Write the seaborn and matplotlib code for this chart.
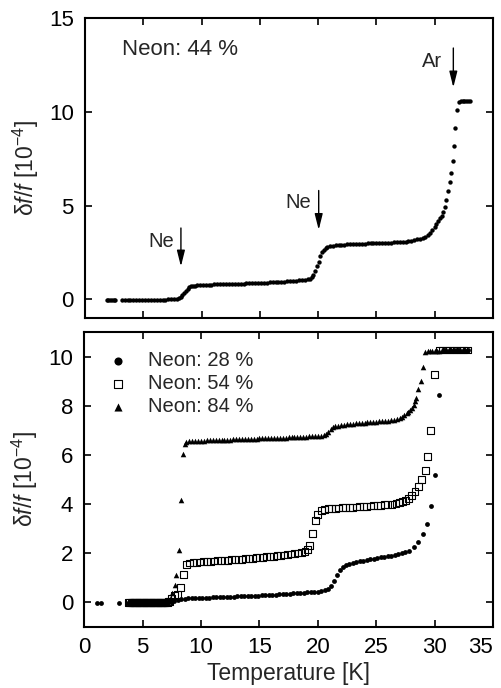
import numpy as np
import pandas as pd
import matplotlib
matplotlib.use("Agg")
import matplotlib.pyplot as plt
import seaborn as sns

# upper panel: Neon 44 %
t44 = [1.85, 2.0, 2.15, 2.3, 2.45, 2.57,
       3.15, 3.4, 3.65, 3.9, 4.15, 4.4, 4.65, 4.9, 5.15, 5.4, 5.65, 5.9, 6.15, 6.4,
       6.65, 6.9, 7.15, 7.4, 7.65, 7.9,
       8.05, 8.2, 8.35, 8.5, 8.65, 8.8, 8.95, 9.1, 9.25, 9.4, 9.6, 9.85,
       10.1, 10.35, 10.6, 10.85, 11.1, 11.35, 11.6, 11.85, 12.1, 12.35, 12.6, 12.85,
       13.1, 13.35, 13.6, 13.85, 14.1, 14.35, 14.6, 14.85, 15.1, 15.35, 15.6, 15.85,
       16.1, 16.35, 16.6, 16.85, 17.1, 17.35, 17.6, 17.85, 18.1, 18.35, 18.6, 18.85, 19.1,
       19.3, 19.45, 19.6, 19.75, 19.9, 20.05, 20.2, 20.35, 20.5, 20.65, 20.8, 21.0, 21.25,
       21.5, 21.75, 22.0, 22.25, 22.5, 22.75, 23.0, 23.25, 23.5, 23.75, 24.0, 24.25,
       24.5, 24.75, 25.0, 25.25, 25.5, 25.75, 26.0, 26.25, 26.5, 26.75, 27.0, 27.25, 27.5,
       27.75, 28.0, 28.25, 28.5, 28.75, 29.0, 29.2, 29.4, 29.6, 29.8, 30.0, 30.15,
       30.3, 30.45, 30.6, 30.75, 30.85,
       31.0, 31.13, 31.28, 31.42, 31.56, 31.65, 31.76, 31.9,
       32.1, 32.25, 32.4, 32.55, 32.7, 32.85, 33.0]
d44 = [-0.02, -0.02, -0.02, -0.02, -0.02, -0.02,
       -0.02, -0.02, -0.02, -0.02, -0.02, -0.02, -0.02, -0.02, -0.02, -0.02, -0.02, -0.02, -0.02, -0.02,
       -0.02, -0.02, -0.01, -0.01, 0.0, 0.02,
       0.06, 0.12, 0.22, 0.33, 0.45, 0.56, 0.63, 0.68, 0.71, 0.73, 0.75, 0.76,
       0.77, 0.77, 0.78, 0.78, 0.79, 0.79, 0.8, 0.8, 0.8, 0.81, 0.81, 0.82,
       0.82, 0.83, 0.83, 0.84, 0.84, 0.85, 0.85, 0.86, 0.87, 0.88, 0.89, 0.9,
       0.9, 0.91, 0.92, 0.93, 0.94, 0.95, 0.96, 0.98, 0.99, 1.0, 1.02, 1.04, 1.06,
       1.1, 1.18, 1.3, 1.5, 1.75, 2.0, 2.3, 2.5, 2.64, 2.72, 2.78, 2.83, 2.86,
       2.88, 2.9, 2.91, 2.92, 2.93, 2.94, 2.95, 2.96, 2.96, 2.97, 2.97, 2.98,
       2.98, 2.99, 2.99, 3.0, 3.0, 3.01, 3.01, 3.02, 3.03, 3.04, 3.05, 3.06, 3.07,
       3.09, 3.12, 3.15, 3.19, 3.23, 3.28, 3.34, 3.43, 3.55, 3.7, 3.88, 4.02,
       4.16, 4.32, 4.45, 4.68, 4.92,
       5.32, 5.76, 6.24, 6.74, 7.39, 8.16, 9.13, 10.07,
       10.5, 10.55, 10.55, 10.55, 10.55, 10.55, 10.55]

# lower panel: Neon 28 % (filled circles)
t28 = [1.05, 1.45, 2.95,
       3.75, 3.85, 3.95, 4.05, 4.15, 4.25, 4.35, 4.45, 4.55, 4.65, 4.75, 4.85, 4.95,
       5.05, 5.15, 5.25, 5.35, 5.45, 5.55, 5.65, 5.75, 5.85, 5.95, 6.05, 6.15, 6.25,
       6.35, 6.45, 6.55, 6.65, 6.75, 6.85, 6.95, 7.05, 7.15,
       7.4, 7.7, 8.0, 8.3, 8.6, 8.9, 9.2, 9.5, 9.8, 10.1, 10.4, 10.7, 11.0, 11.3,
       11.6, 11.9, 12.2, 12.5, 12.8, 13.1, 13.4, 13.7, 14.0, 14.3, 14.6, 14.9, 15.2,
       15.5, 15.8, 16.1, 16.4, 16.7, 17.0, 17.3, 17.6, 17.9, 18.2, 18.5, 18.8, 19.1,
       19.4, 19.7, 20.0, 20.3, 20.6, 20.9, 21.15, 21.4, 21.65, 21.9, 22.15, 22.4,
       22.7, 23.0, 23.3, 23.6, 23.9, 24.2, 24.5, 24.8, 25.1, 25.4, 25.7, 26.0, 26.3,
       26.6, 26.9, 27.2, 27.5, 27.8, 28.2, 28.6, 29.0, 29.33, 29.67, 30.05, 30.4,
       30.9, 31.3, 31.7, 32.1, 32.5, 32.9]
d28 = [-0.02, -0.02, -0.02,
       -0.02, -0.02, -0.02, -0.02, -0.02, -0.02, -0.02, -0.02, -0.02, -0.02, -0.02, -0.02, -0.02,
       -0.02, -0.02, -0.02, -0.02, -0.02, -0.02, -0.02, -0.02, -0.02, -0.02, -0.02, -0.02, -0.02,
       -0.02, -0.02, -0.02, -0.02, -0.02, -0.02, -0.01, -0.01, 0.0,
       0.03, 0.07, 0.1, 0.13, 0.15, 0.16, 0.16, 0.17, 0.18, 0.18, 0.19, 0.19, 0.2, 0.2,
       0.21, 0.22, 0.22, 0.23, 0.23, 0.24, 0.25, 0.25, 0.26, 0.27, 0.28, 0.28, 0.29,
       0.3, 0.31, 0.32, 0.32, 0.33, 0.34, 0.35, 0.36, 0.37, 0.38, 0.39, 0.4, 0.41,
       0.42, 0.43, 0.44, 0.46, 0.5, 0.56, 0.68, 0.86, 1.1, 1.32, 1.45, 1.52,
       1.57, 1.61, 1.64, 1.67, 1.7, 1.73, 1.76, 1.78, 1.8, 1.83, 1.85, 1.87, 1.9,
       1.93, 1.96, 2.0, 2.05, 2.11, 2.24, 2.46, 2.77, 3.2, 3.91, 5.18, 8.43,
       10.25, 10.25, 10.25, 10.25, 10.25, 10.25]

# lower panel: Neon 54 % (open squares)
t54 = [3.8, 3.9, 4.0, 4.1, 4.2, 4.3, 4.4, 4.5, 4.6, 4.7, 4.8, 4.9, 5.0, 5.1, 5.2,
       5.3, 5.4, 5.5, 5.6, 5.7, 5.8, 5.9, 6.0, 6.1, 6.2, 6.3, 6.4, 6.5, 6.6, 6.7,
       6.8, 6.9, 7.0, 7.1, 7.2, 7.3,
       7.5, 7.73, 7.96, 8.24, 8.5, 8.73,
       9.0, 9.3, 9.6, 9.9, 10.2, 10.5, 10.8, 11.1, 11.4, 11.7, 12.0, 12.3, 12.6, 12.9,
       13.2, 13.5, 13.8, 14.1, 14.4, 14.7, 15.0, 15.3, 15.6, 15.9, 16.2, 16.5, 16.8,
       17.1, 17.4, 17.7, 18.0, 18.3, 18.6, 18.9, 19.1, 19.3, 19.52, 19.8, 20.0, 20.3,
       20.6, 20.9, 21.2, 21.5, 21.8, 22.1, 22.4, 22.7, 23.0, 23.3, 23.6, 23.9, 24.2,
       24.5, 24.8, 25.1, 25.4, 25.7, 26.0, 26.35, 26.7, 27.0, 27.25, 27.5, 27.77,
       28.05, 28.33, 28.62, 28.85, 29.19, 29.4, 29.67, 29.96,
       30.4, 30.7, 31.0, 31.3, 31.6, 31.9, 32.2, 32.5, 32.8]
d54 = [-0.02, -0.02, -0.02, -0.02, -0.02, -0.02, -0.02, -0.02, -0.02, -0.02, -0.02, -0.02,
       -0.02, -0.02, -0.02, -0.02, -0.02, -0.02, -0.02, -0.02, -0.02, -0.02, -0.02, -0.02,
       -0.02, -0.02, -0.02, -0.02, -0.02, -0.02, -0.02, -0.01, -0.01, 0.0, 0.02, 0.05,
       0.17, 0.28, 0.33, 0.6, 1.14, 1.53,
       1.6, 1.62, 1.63, 1.64, 1.65, 1.66, 1.67, 1.68, 1.69, 1.7, 1.71, 1.72, 1.73, 1.74,
       1.75, 1.76, 1.77, 1.79, 1.8, 1.82, 1.83, 1.84, 1.86, 1.87, 1.88, 1.9, 1.91,
       1.93, 1.95, 1.97, 1.99, 2.01, 2.04, 2.08, 2.15, 2.33, 2.8, 3.33, 3.57, 3.73,
       3.79, 3.81, 3.82, 3.83, 3.84, 3.85, 3.86, 3.87, 3.87, 3.88, 3.89, 3.9, 3.91,
       3.92, 3.93, 3.94, 3.95, 3.97, 3.98, 3.99, 4.03, 4.07, 4.11, 4.16, 4.22,
       4.34, 4.51, 4.71, 5.0, 5.38, 5.94, 6.99, 9.27,
       10.27, 10.27, 10.27, 10.27, 10.27, 10.27, 10.27, 10.27, 10.27]

# lower panel: Neon 84 % (filled triangles)
t84 = [3.85, 3.95, 4.05, 4.15, 4.25, 4.35, 4.45, 4.55, 4.65, 4.75, 4.85, 4.95,
       5.05, 5.15, 5.25, 5.35, 5.45, 5.55, 5.65, 5.75, 5.85, 5.95, 6.05, 6.15,
       6.25, 6.35, 6.45, 6.55, 6.65, 6.75, 6.85, 6.95, 7.05, 7.15, 7.3,
       7.54, 7.73, 7.88, 8.07, 8.24, 8.44, 8.58, 8.75,
       9.0, 9.25, 9.5, 9.75, 10.0, 10.25, 10.5, 10.75, 11.0, 11.25, 11.5, 11.75,
       12.0, 12.25, 12.5, 12.75, 13.0, 13.25, 13.5, 13.75, 14.0, 14.25, 14.5, 14.75,
       15.0, 15.25, 15.5, 15.75, 16.0, 16.25, 16.5, 16.75, 17.0, 17.25, 17.5, 17.75,
       18.0, 18.25, 18.5, 18.75, 19.0, 19.25, 19.5, 19.75, 20.0, 20.25, 20.5, 20.7,
       20.9, 21.1, 21.3, 21.5, 21.75, 22.0, 22.25, 22.5, 22.75, 23.0, 23.25, 23.5,
       23.75, 24.0, 24.25, 24.5, 24.75, 25.0, 25.25, 25.5, 25.75, 26.0, 26.25, 26.5,
       26.75, 27.0, 27.2, 27.4, 27.6, 27.75, 27.9, 28.05, 28.2, 28.3, 28.4, 28.62,
       28.8, 28.98, 29.2,
       29.4, 29.6, 29.8, 30.0, 30.2, 30.4, 30.6, 30.8, 31.0, 31.2, 31.4, 31.6, 31.8,
       32.0, 32.2, 32.4, 32.6, 32.8]
d84 = [-0.02, -0.02, -0.02, -0.02, -0.02, -0.02, -0.02, -0.02, -0.02, -0.02, -0.02, -0.02,
       -0.02, -0.02, -0.02, -0.02, -0.02, -0.02, -0.02, -0.02, -0.02, -0.02, -0.02, -0.02,
       -0.02, -0.02, -0.02, -0.02, -0.02, -0.02, -0.01, 0.0, 0.03, 0.07, 0.15,
       0.4, 0.69, 1.12, 2.14, 4.15, 6.05, 6.45, 6.52,
       6.55, 6.56, 6.57, 6.57, 6.58, 6.58, 6.59, 6.59, 6.6, 6.6, 6.61, 6.61,
       6.62, 6.62, 6.62, 6.63, 6.63, 6.64, 6.64, 6.65, 6.65, 6.65, 6.66, 6.66,
       6.67, 6.67, 6.67, 6.68, 6.68, 6.69, 6.69, 6.7, 6.7, 6.7, 6.71, 6.71,
       6.72, 6.72, 6.73, 6.73, 6.74, 6.75, 6.75, 6.76, 6.77, 6.78, 6.8, 6.86,
       6.95, 7.05, 7.12, 7.16, 7.19, 7.21, 7.23, 7.24, 7.26, 7.27, 7.28, 7.29,
       7.3, 7.31, 7.32, 7.33, 7.34, 7.35, 7.36, 7.37, 7.38, 7.39, 7.41, 7.43,
       7.46, 7.5, 7.55, 7.62, 7.7, 7.76, 7.83, 7.92, 8.04, 8.18, 8.33, 8.66,
       9.02, 9.57, 10.17,
       10.22, 10.23, 10.23, 10.24, 10.24, 10.24, 10.25, 10.25, 10.25, 10.25, 10.25,
       10.25, 10.25, 10.25, 10.25, 10.25, 10.25, 10.25]

legend_labels = ["Neon: 28 %", "Neon: 54 %", "Neon: 84 %"]
x_ticks = [0, 5, 10, 15, 20, 25, 30, 35]

sns.set_style("ticks")
plt.rcParams["font.family"] = ["Liberation Sans", "DejaVu Sans"]
plt.rcParams["mathtext.fontset"] = "custom"
plt.rcParams["mathtext.rm"] = "Liberation Sans"
plt.rcParams["mathtext.it"] = "Liberation Sans:italic"

fig = plt.figure(figsize=(5.02, 6.88), dpi=100)
ax1 = fig.add_axes([0.1693, 0.5378, 0.8127, 0.436])
ax2 = fig.add_axes([0.168, 0.0887, 0.814, 0.4288])

# upper panel
sns.scatterplot(x=t44, y=d44, ax=ax1, color="black", s=10, marker="o",
                linewidth=0, legend=False)
ax1.set_xlim(0, 35)
ax1.set_ylim(-1, 15)
ax1.set_yticks([0, 5, 10, 15])
ax1.set_xticks(x_ticks)
ax1.tick_params(labelbottom=False)
ax1.text(3.2, 13.3, "Neon: 44 %", fontsize=16, va="center", ha="left")

arrow = dict(arrowstyle="-|>,head_length=0.8,head_width=0.2", color="black",
             lw=1.0, mutation_scale=12, shrinkA=0, shrinkB=0)
ax1.annotate("", xy=(8.23, 1.75), xytext=(8.23, 3.8), arrowprops=arrow)
ax1.annotate("", xy=(20.05, 3.7), xytext=(20.05, 5.8), arrowprops=arrow)
ax1.annotate("", xy=(31.6, 11.3), xytext=(31.6, 13.4), arrowprops=arrow)
ax1.text(6.5, 3.1, "Ne", fontsize=14.5, ha="center", va="center")
ax1.text(18.3, 5.15, "Ne", fontsize=14.5, ha="center", va="center")
ax1.text(29.75, 12.7, "Ar", fontsize=14.5, ha="center", va="center")

# lower panel
sns.scatterplot(x=t28, y=d28, ax=ax2, color="black", s=12, marker="o",
                linewidth=0, label=legend_labels[0])
sns.scatterplot(x=t54, y=d54, ax=ax2, marker="s", s=24, facecolor="none",
                edgecolor="black", linewidth=0.8, label=legend_labels[1])
sns.scatterplot(x=t84, y=d84, ax=ax2, color="black", s=16, marker="^",
                linewidth=0, label=legend_labels[2])
ax2.set_xlim(0, 35)
ax2.set_ylim(-1, 11)
ax2.set_yticks([0, 2, 4, 6, 8, 10])
ax2.set_xticks(x_ticks)
ax2.set_xlabel("Temperature [K]", fontsize=16.5, labelpad=3)

leg = ax2.legend(loc="upper left", bbox_to_anchor=(0.058, 0.935), frameon=False,
                 fontsize=14.5, handlelength=1.0, handletextpad=1.0,
                 labelspacing=0.2, borderpad=0, borderaxespad=0)
for h in leg.legend_handles:
    h.set_sizes([34])

for ax in (ax1, ax2):
    ax.set_ylabel("δ$f$/$f$ [10$^{-4}$]", fontsize=16.5, labelpad=6)
    ax.tick_params(direction="in", length=5, width=1.2, top=True, right=True,
                   labelsize=16, pad=8, colors="black")
    ax.tick_params(axis="x", pad=7)
    for sp in ax.spines.values():
        sp.set_linewidth(1.5)
        sp.set_color("black")
        sp.set_visible(True)

# keep the last x tick label inside the canvas, as in the original
fig.canvas.draw()
ax2.get_xticklabels()[-1].set_horizontalalignment("right")

fig.savefig("out.png", dpi=100)
